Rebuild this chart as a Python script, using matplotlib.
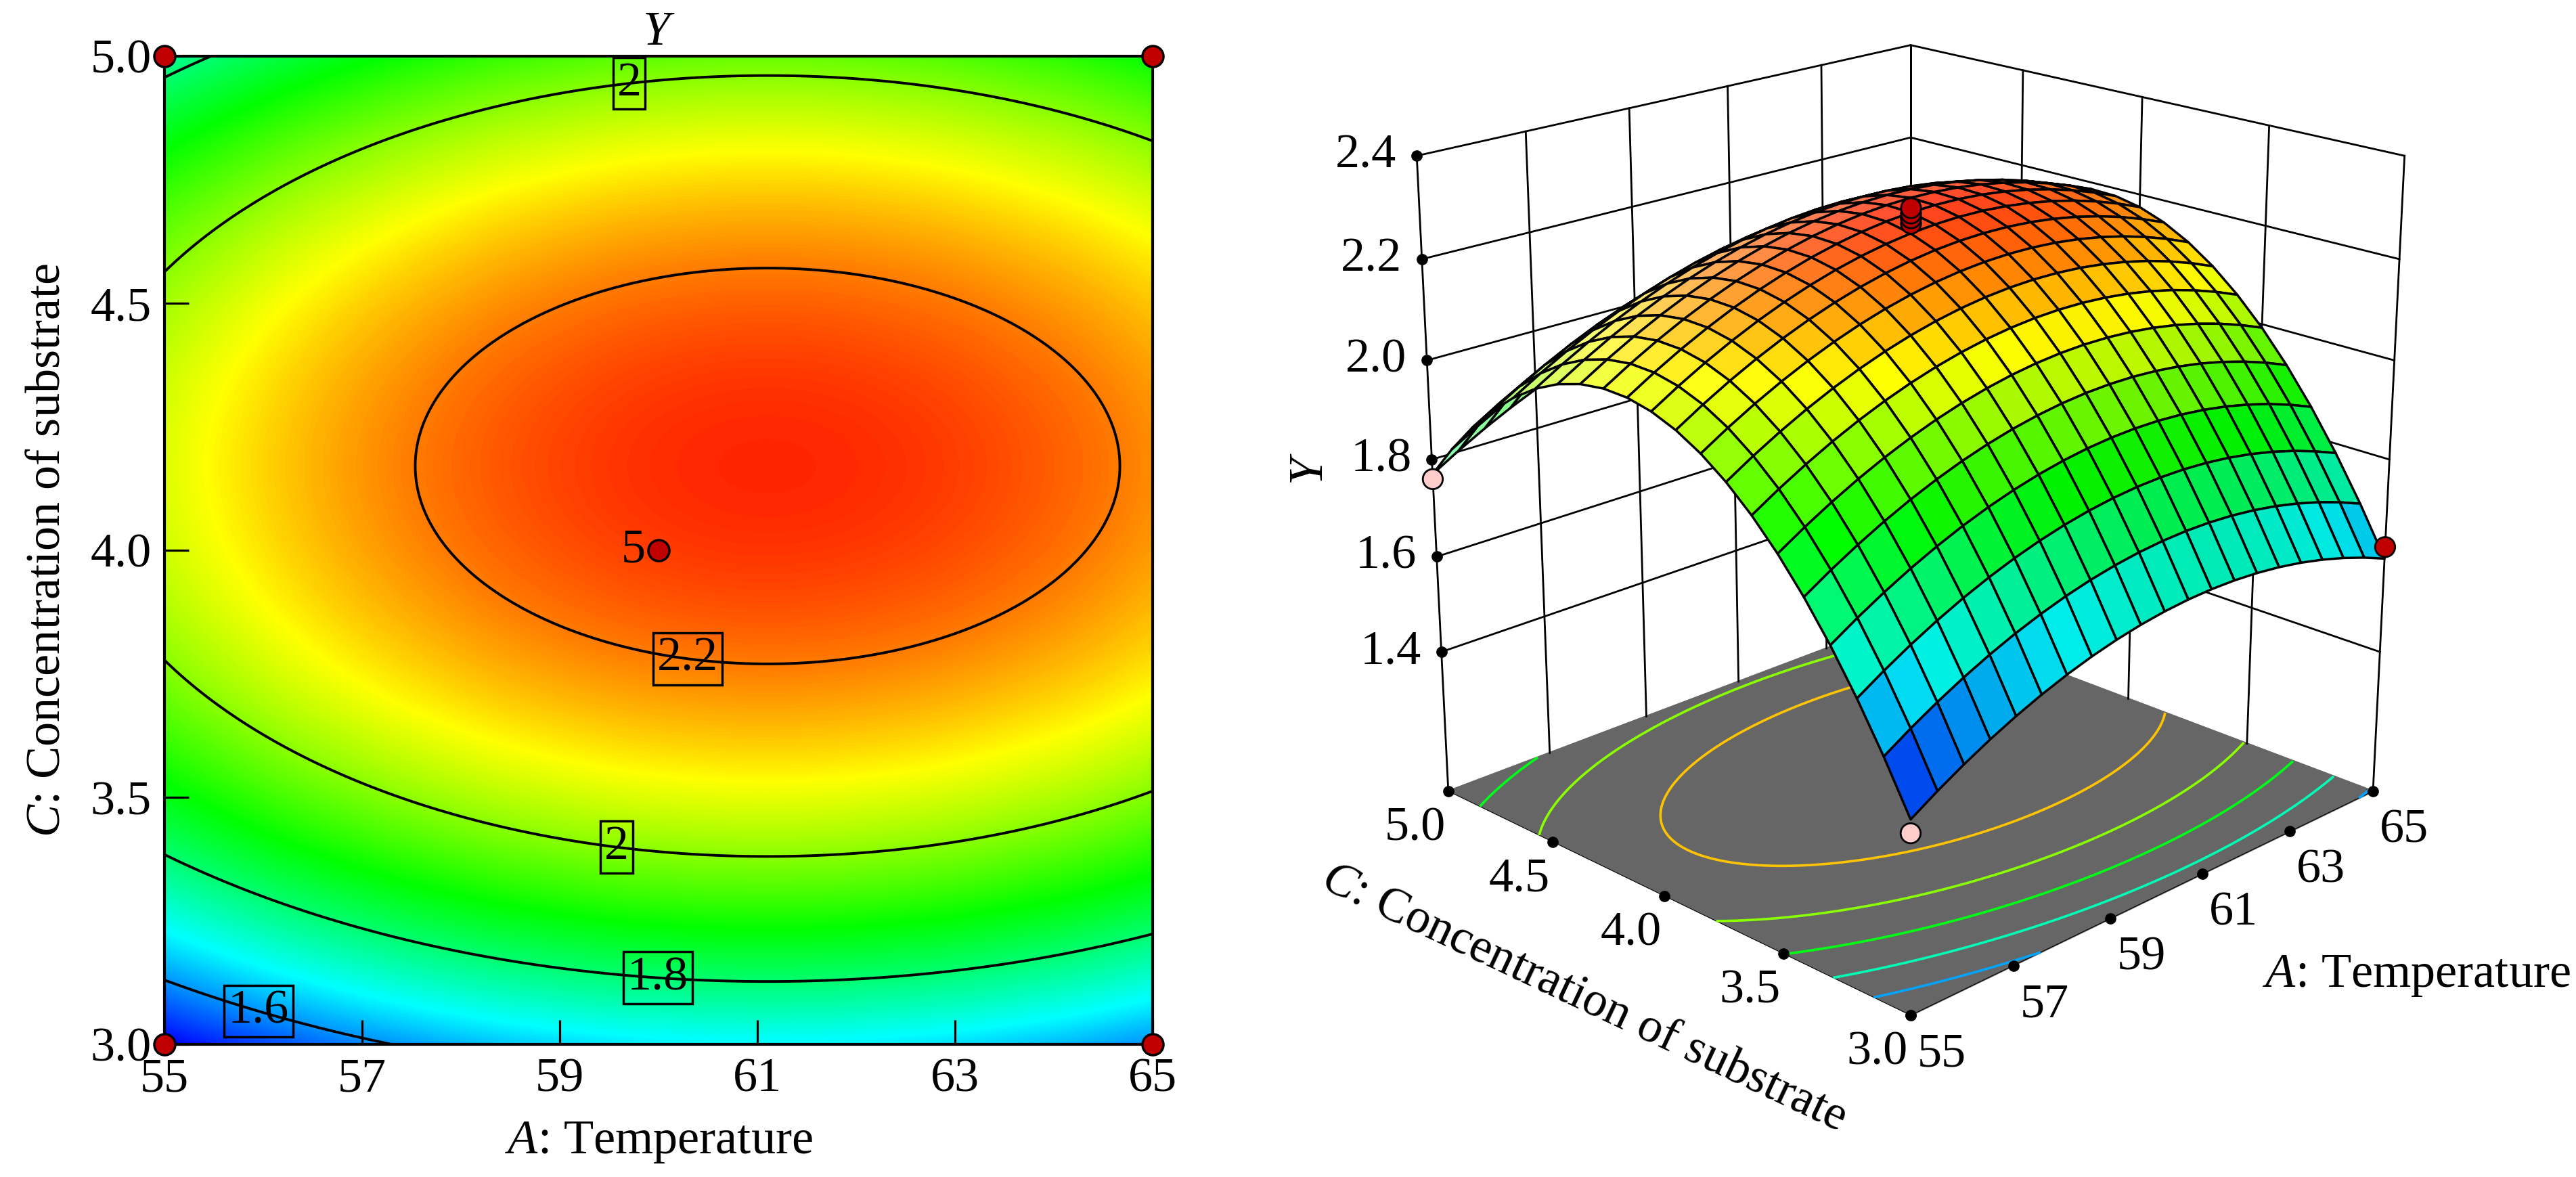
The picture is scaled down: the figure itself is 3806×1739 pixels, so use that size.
import numpy as np
import matplotlib
matplotlib.use('Agg')
import matplotlib.pyplot as plt
from matplotlib.colors import LinearSegmentedColormap, Normalize
from matplotlib.transforms import offset_copy
from mpl_toolkits.mplot3d import proj3d

plt.rcParams['font.family'] = 'Liberation Serif'
plt.rcParams['mathtext.fontset'] = 'custom'
plt.rcParams['mathtext.rm'] = 'Liberation Serif'
plt.rcParams['mathtext.it'] = 'Liberation Serif:italic'
plt.rcParams['font.size'] = 52

# ---- values ----
temp_lim = [55, 65]                 # A: Temperature
conc_lim = [3.0, 5.0]               # C: Concentration of substrate
temp_ticks = [55, 57, 59, 61, 63, 65]
conc_ticks = [3.0, 3.5, 4.0, 4.5, 5.0]
y_ticks = [1.4, 1.6, 1.8, 2.0, 2.2, 2.4]
y_floor = 1.1

# quadratic model in coded units: a = (A - 60) / 5, c = (C - 4) / 1
coef_0 = 2.25
coef_A = 0.060
coef_C = 0.147
coef_AA = -0.136
coef_CC = -0.431

contour_levels = [1.6, 1.8, 2.0, 2.2]
floor_levels = [1.61, 1.74, 1.87, 2.00, 2.14]
label_spots = [(56.0, 3.10), (60.0, 3.15), (59.6, 3.44), (60.3, 3.79), (59.7, 4.95)]

# design points (actual responses)
corner_A = [55, 65, 55, 65]
corner_C = [3.0, 3.0, 5.0, 5.0]
corner_Y = [1.45, 1.62, 1.76, 1.88]
center_A = 60
center_C = 4.0
center_Y = [2.27, 2.28, 2.28, 2.29, 2.30]


def predict(A, C):
    a = (np.asarray(A) - 60.0) / 5.0
    c = (np.asarray(C) - 4.0) / 1.0
    return coef_0 + coef_A * a + coef_C * c + coef_AA * a ** 2 + coef_CC * c ** 2


cmap = LinearSegmentedColormap.from_list(
    'de', ['#0000FF', '#00FFFF', '#00FF00', '#FFFF00', '#FF0000'])

A_fine, C_fine = np.meshgrid(np.linspace(*temp_lim, 301), np.linspace(*conc_lim, 301))
Y_fine = predict(A_fine, C_fine)
norm = Normalize(Y_fine.min(), max(center_Y))

fig = plt.figure(figsize=(38.06, 17.39), dpi=100)

# ---------------- contour plot ----------------
ax = fig.add_axes([243 / 3806, 1 - 1543 / 1739, 1460 / 3806, 1460 / 1739])
ax.imshow(Y_fine, extent=temp_lim + conc_lim, origin='lower', aspect='auto',
          cmap=cmap, norm=norm, interpolation='bilinear')
cs = ax.contour(A_fine, C_fine, Y_fine, levels=contour_levels, colors='k', linewidths=2.8)
labels = ax.clabel(cs, inline=False, manual=label_spots, fmt='%g', fontsize=52)
for t in labels:
    t.set_rotation(0)
    t.set_bbox(dict(boxstyle='square,pad=0.08', facecolor='none', edgecolor='k', linewidth=2.5))

ax.scatter(corner_A + [center_A], corner_C + [center_C], s=500, color='#C00000',
           edgecolors='k', linewidths=2.5, zorder=5, clip_on=False)
ax.annotate(str(len(center_Y)), (center_A, center_C), xytext=(-14, 0),
            textcoords='offset points', ha='right', va='center', fontsize=52)

ax.set_xlim(temp_lim)
ax.set_ylim(conc_lim)
ax.set_xticks(temp_ticks)
ax.set_yticks(conc_ticks)
ax.set_yticklabels([f'{v:.1f}' for v in conc_ticks])
ax.tick_params(direction='in', length=26, width=2.3, pad=14, top=False, right=False)
for sp in ax.spines.values():
    sp.set_linewidth(3)
ax.set_xlabel(r'$\it{A}$: Temperature', labelpad=20)
ax.set_ylabel(r'$\it{C}$: Concentration of substrate', labelpad=22)
ax.set_title(r'$\it{Y}$', fontsize=52, pad=12)

# ---------------- 3D surface ----------------
ax3 = fig.add_axes([0.5153, 0.0933, 0.4409, 0.9649], projection='3d', computed_zorder=False)
ax3.view_init(elev=20, azim=-135)
ax3.set_proj_type('persp', focal_length=0.57)
ax3.set_box_aspect((1, 1, 1), zoom=1.0)
ax3.set_xlim(temp_lim)
ax3.set_ylim(conc_lim)
ax3.set_zlim(y_floor, y_ticks[-1])
ax3.set_xticks(temp_ticks)
ax3.set_yticks(conc_ticks)
ax3.set_zticks(y_ticks)
ax3.set_xticklabels([])
ax3.set_yticklabels([])
ax3.set_zticklabels([])
ax3.grid(False)
for axis in (ax3.xaxis, ax3.yaxis, ax3.zaxis):
    axis._axinfo['tick']['inward_factor'] = 0
    axis._axinfo['tick']['outward_factor'] = 0
    axis._axinfo['axisline']['linewidth'] = 3
    axis._axinfo['axisline']['color'] = 'k'
    axis.pane.set_edgecolor('k')
    axis.pane.set_linewidth(2.2)
ax3.xaxis.set_pane_color((1, 1, 1, 1))
ax3.yaxis.set_pane_color((1, 1, 1, 1))
ax3.zaxis.set_pane_color('#666666')

# wall grid lines
for a in temp_ticks:
    ax3.plot([a, a], [conc_lim[1]] * 2, [y_floor, y_ticks[-1]], color='k', lw=2, zorder=1)
for c in conc_ticks:
    ax3.plot([temp_lim[1]] * 2, [c, c], [y_floor, y_ticks[-1]], color='k', lw=2, zorder=1)
for z in y_ticks:
    ax3.plot(temp_lim, [conc_lim[1]] * 2, [z, z], color='k', lw=2, zorder=1)
    ax3.plot([temp_lim[1]] * 2, conc_lim, [z, z], color='k', lw=2, zorder=1)

ax3.contour(A_fine, C_fine, Y_fine, levels=floor_levels, zdir='z', offset=y_floor,
            cmap=cmap, norm=norm, linewidths=2.6, zorder=2)

# corner point hidden behind the surface
hidden = 3
pred_corner = predict(corner_A, corner_C)
corner_col = ['#C00000' if y > p else '#FFCCCC' for y, p in zip(corner_Y, pred_corner)]
ax3.scatter([corner_A[hidden]], [corner_C[hidden]], [corner_Y[hidden]], s=450,
            c=[corner_col[hidden]], edgecolors='k', linewidths=2, depthshade=False, zorder=3)

# surface with a soft light from the upper left
A_s, C_s = np.meshgrid(np.linspace(*temp_lim, 21), np.linspace(*conc_lim, 21))
Y_s = predict(A_s, C_s)
A_m = (A_s[:-1, :-1] + A_s[1:, 1:]) / 2
C_m = (C_s[:-1, :-1] + C_s[1:, 1:]) / 2
Y_m = predict(A_m, C_m)
du = 1.0 / (len(A_s[0]) - 1)
dv = 1.0 / (len(C_s) - 1)
h = y_ticks[-1] - y_floor
gu = ((Y_s[:-1, 1:] - Y_s[:-1, :-1]) + (Y_s[1:, 1:] - Y_s[1:, :-1])) / 2 / h / du
gv = ((Y_s[1:, :-1] - Y_s[:-1, :-1]) + (Y_s[1:, 1:] - Y_s[:-1, 1:])) / 2 / h / dv
nrm = np.stack([-gu, -gv, np.ones_like(gu)], axis=-1)
nrm /= np.linalg.norm(nrm, axis=-1, keepdims=True)
light = np.array([-0.2, 0.8, 0.6])
light /= np.linalg.norm(light)
lit = nrm @ light
base = cmap(norm(Y_m))[..., :3]
white = 0.55 * np.clip(lit, 0, 1) ** 2
dark = 1 + 0.25 * np.clip(lit, -1, 0)
fc = (base * dark[..., None]) * (1 - white[..., None]) + white[..., None]
fc = np.clip(fc, 0, 1)
ax3.plot_surface(A_s, C_s, Y_s, facecolors=fc, rstride=1, cstride=1, shade=False,
                 edgecolor='k', linewidth=2.5, antialiased=True, zorder=4)

shown = [0, 1, 2]
ax3.scatter([corner_A[i] for i in shown], [corner_C[i] for i in shown],
            [corner_Y[i] for i in shown], s=450, c=[corner_col[i] for i in shown],
            edgecolors='k', linewidths=2, depthshade=False, zorder=5)
ax3.scatter([center_A] * len(center_Y), [center_C] * len(center_Y), center_Y, s=450,
            c='#C00000', edgecolors='k', linewidths=2, depthshade=False, zorder=5)

# tick dots on axis lines
ax3.plot(temp_ticks, [conc_lim[0]] * len(temp_ticks), [y_floor] * len(temp_ticks), 'o',
         color='k', ms=11, zorder=6, clip_on=False)
ax3.plot([temp_lim[0]] * len(conc_ticks), conc_ticks, [y_floor] * len(conc_ticks), 'o',
         color='k', ms=11, zorder=6, clip_on=False)
ax3.plot([temp_lim[0]] * len(y_ticks), [conc_lim[1]] * len(y_ticks), y_ticks, 'o',
         color='k', ms=11, zorder=6, clip_on=False)

# tick labels: project the tick dots to 2D and shift by a few pixels
M = ax3.get_proj()


def tick_text(x, y, z, s, dx, dy, ha):
    px, py, _ = proj3d.proj_transform(x, y, z, M)
    tr = offset_copy(ax3.transData, fig=fig, x=dx, y=dy, units='dots')
    ax3.text2D(px, py, s, transform=tr, ha=ha, va='center', fontsize=52, zorder=7)


for a in temp_ticks:
    tick_text(a, conc_lim[0], y_floor, f'{a:g}', 10, -58, 'left')
for c in conc_ticks:
    tick_text(temp_lim[0], c, y_floor, f'{c:.1f}', -4, -55, 'right')
for z in y_ticks:
    tick_text(temp_lim[0], conc_lim[1], z, f'{z:.1f}', -30, 0, 'right')

ax3.set_xlabel('')
ax3.set_ylabel('')
ax3.set_zlabel('')
fig.text(0.938, 0.171, r'$\it{A}$: Temperature', ha='center', va='center')
fig.text(0.615, 0.152, r'$\it{C}$: Concentration of substrate', ha='center', va='center',
         rotation=-25.2, rotation_mode='anchor')
fig.text(0.5087, 0.6015, r'$\it{Y}$', ha='center', va='center', rotation=90)

fig.savefig('out.png', dpi=100)
